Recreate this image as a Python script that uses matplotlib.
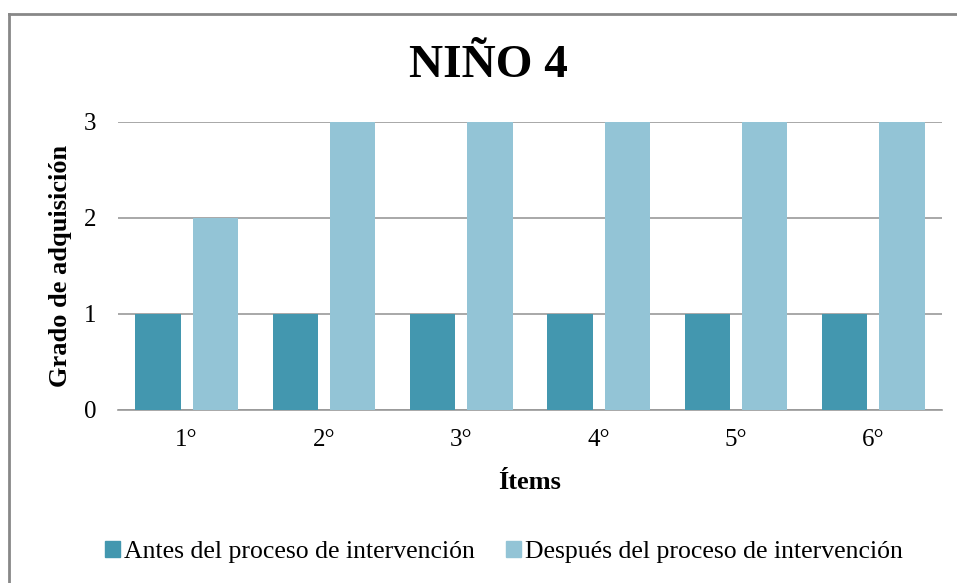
import matplotlib.pyplot as plt
import numpy as np
from matplotlib.lines import Line2D
from matplotlib.patches import Patch

items = ["1°", "2°", "3°", "4°", "5°", "6°"]
antes = [1, 1, 1, 1, 1, 1]
despues = [2, 3, 3, 3, 3, 3]
series_names = ["Antes del proceso de intervención", "Después del proceso de intervención"]
y_ticks = [0, 1, 2, 3]

c_antes = "#4397AF"
c_despues = "#93C4D6"
serif = ["Liberation Serif", "DejaVu Serif"]

fig = plt.figure(figsize=(9.57, 5.83), dpi=100)
ax = fig.add_axes([118 / 957, 1 - 410 / 583, (942 - 118) / 957, (410 - 122) / 583])

x = np.arange(len(items))
w = 0.33
ax.bar(x - 0.208, antes, width=w, color=c_antes, zorder=3)
ax.bar(x + 0.208, despues, width=w, color=c_despues, zorder=3)

ax.set_xlim(-0.5, len(items) - 0.5)
ax.set_ylim(0, 3)
ax.set_yticks(y_ticks)
ax.set_xticks(x)
ax.set_xticklabels(items, family=serif, fontsize=18)
ax.set_yticklabels([str(v) for v in y_ticks], family=serif, fontsize=18)
ax.tick_params(length=0)
ax.tick_params(axis="y", pad=20)
ax.tick_params(axis="x", pad=14)
ax.grid(axis="y", color="#999999", linewidth=1.2, zorder=0)
for s in ["top", "right", "left"]:
    ax.spines[s].set_visible(False)
ax.spines["bottom"].set_color("#999999")
ax.spines["bottom"].set_linewidth(1.2)

ax.set_xlabel("Ítems", family=serif, fontsize=19, fontweight="bold", labelpad=14)
ax.set_ylabel("Grado de adquisición", family=serif, fontsize=19, fontweight="bold")
ax.yaxis.set_label_coords(-(118 - 72) / (942 - 118), 0.5)
for lbl in ax.get_yticklabels():
    lbl.set_horizontalalignment("center")

fig.text(0.5 + 10 / 957, 1 - 66 / 583, "NIÑO 4", ha="center", va="center",
         family=serif, fontsize=34, fontweight="bold")

handles = [Patch(color=c_antes), Patch(color=c_despues)]
fig.legend(handles, series_names, loc="center", bbox_to_anchor=(504 / 957, 1 - 552 / 583),
           ncol=2, frameon=False, prop={"family": serif, "size": 18.5},
           handlelength=0.6, handleheight=0.6, handletextpad=0.15, columnspacing=1.2)

# outer chart frame (top and left edges)
fig.add_artist(Line2D([9 / 957, 1], [1 - 14 / 583, 1 - 14 / 583], transform=fig.transFigure,
                      color="#888888", linewidth=2))
fig.add_artist(Line2D([9 / 957, 9 / 957], [0, 1 - 14 / 583], transform=fig.transFigure,
                      color="#888888", linewidth=2))

fig.savefig("out.png", dpi=100)
